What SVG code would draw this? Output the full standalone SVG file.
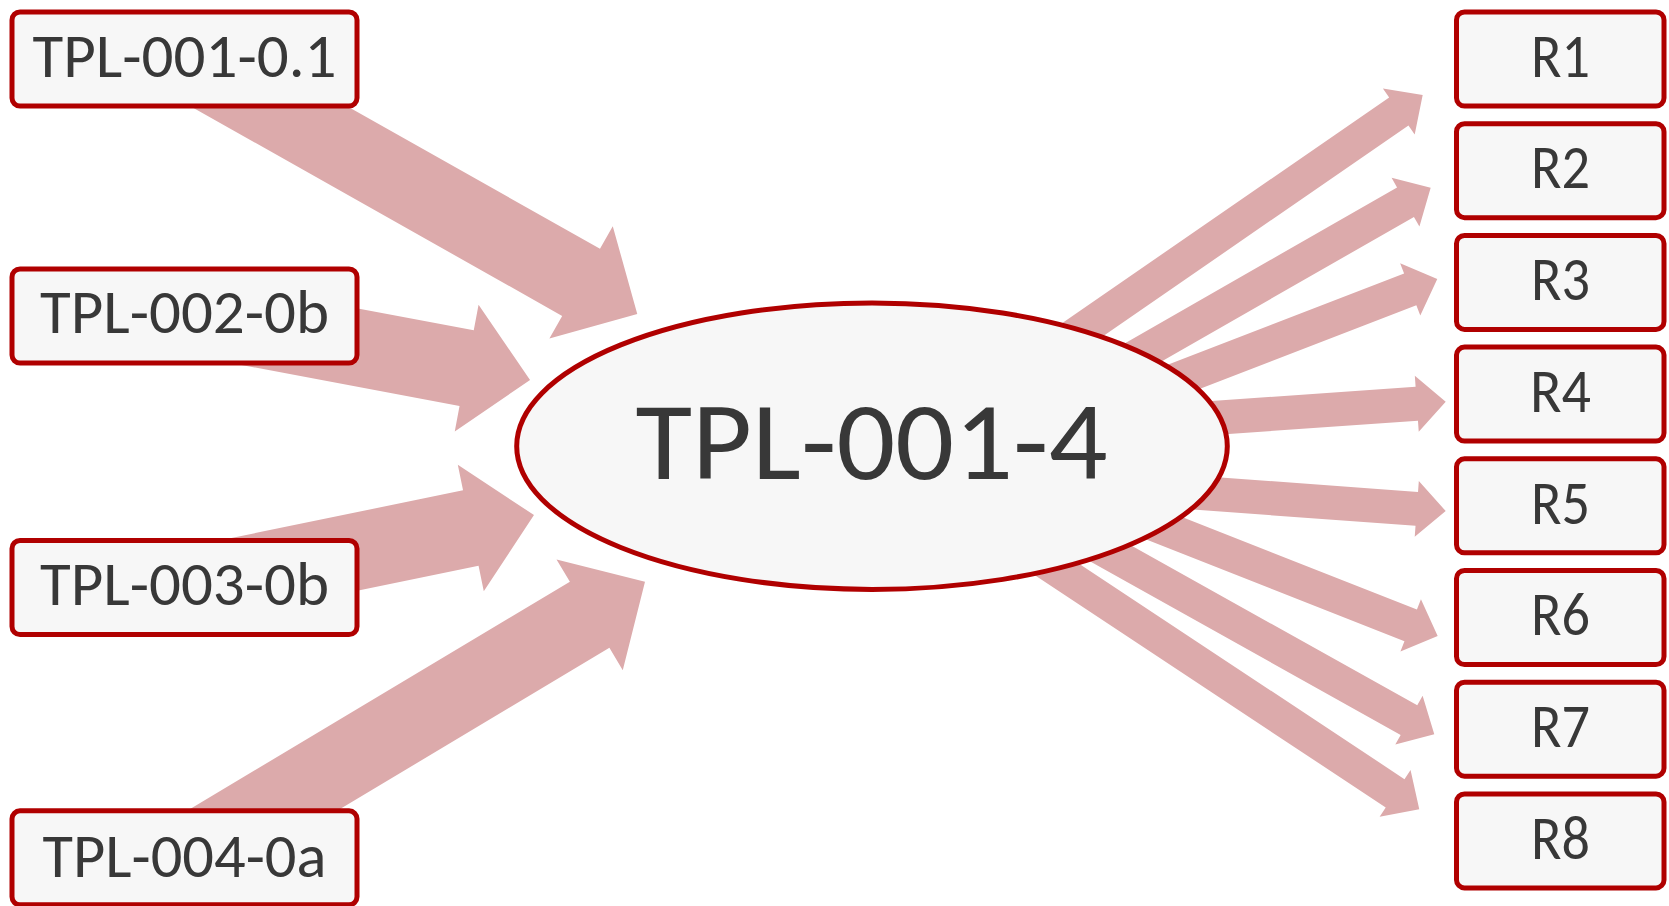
<svg xmlns="http://www.w3.org/2000/svg" width="1669" height="906" viewBox="0 0 1669 906">
<style>
.arrow{fill:#dcaaab;stroke:none}
.box{fill:#f7f7f7;stroke:#b00000;stroke-width:5}
.ell{fill:#f7f7f7;stroke:#b00000;stroke-width:5}
.lbl{font-family:Carlito,Lato,"Open Sans",sans-serif;fill:#383838;text-anchor:middle}
.src{font-size:62px}
.dst{font-size:62px}
.main{font-size:111px}
</style>
<rect width="1669" height="906" fill="#ffffff"/>
<g id="connectors">
  <polygon class="arrow" transform="translate(184.5,58.7) rotate(29.42)" points="0,-38.5 455.3,-38.5 455.3,-64.5 519.8,0 455.3,64.5 455.3,38.5 0,38.5"/>
  <polygon class="arrow" transform="translate(184,315) rotate(10.64)" points="0,-38.5 287.6,-38.5 287.6,-64.5 352.1,0 287.6,64.5 287.6,38.5 0,38.5"/>
  <polygon class="arrow" transform="translate(184,587) rotate(-11.62)" points="0,-38.5 292.8,-38.5 292.8,-64.5 357.3,0 292.8,64.5 292.8,38.5 0,38.5"/>
  <polygon class="arrow" transform="translate(184,857.5) rotate(-30.89)" points="0,-38.5 472.7,-38.5 472.7,-64.5 537.2,0 472.7,64.5 472.7,38.5 0,38.5"/>
  <polygon class="arrow" transform="translate(1000,386.6) rotate(-34.6)" points="0,-17 484.5,-17 484.5,-28 513.5,0 484.5,28 484.5,17 0,17"/>
  <polygon class="arrow" transform="translate(1000,434.4) rotate(-29.8)" points="0,-17 467.3,-17 467.3,-28 496.3,0 467.3,28 467.3,17 0,17"/>
  <polygon class="arrow" transform="translate(1000,447.7) rotate(-21.1)" points="0,-17 439.7,-17 439.7,-28 468.7,0 439.7,28 439.7,17 0,17"/>
  <polygon class="arrow" transform="translate(1000,432.9) rotate(-4)" points="0,-17 417.8,-17 417.8,-28 446.8,0 417.8,28 417.8,17 0,17"/>
  <polygon class="arrow" transform="translate(1000,478.3) rotate(4.2)" points="0,-17 417.9,-17 417.9,-28 446.9,0 417.9,28 417.9,17 0,17"/>
  <polygon class="arrow" transform="translate(1000,463.6) rotate(21.5)" points="0,-17 441.4,-17 441.4,-28 470.4,0 441.4,28 441.4,17 0,17"/>
  <polygon class="arrow" transform="translate(1000,491.6) rotate(29.2)" points="0,-17 468.5,-17 468.5,-28 497.5,0 468.5,28 468.5,17 0,17"/>
  <polygon class="arrow" transform="translate(1000,531.8) rotate(33.5)" points="0,-17 473.8,-17 473.8,-28 502.8,0 473.8,28 473.8,17 0,17"/>
</g>
<g id="node-tpl-001-0-1">
  <rect class="box" x="12" y="12" width="345" height="94" rx="8"/>
  <text class="lbl src" x="184.5" y="77" textLength="304" lengthAdjust="spacingAndGlyphs">TPL-001-0.1</text>
</g>
<g id="node-tpl-002-0b">
  <rect class="box" x="12" y="269" width="345" height="94" rx="8"/>
  <text class="lbl src" x="184.5" y="333" textLength="289" lengthAdjust="spacingAndGlyphs">TPL-002-0b</text>
</g>
<g id="node-tpl-003-0b">
  <rect class="box" x="12" y="540.5" width="345" height="94" rx="8"/>
  <text class="lbl src" x="184.5" y="605" textLength="289" lengthAdjust="spacingAndGlyphs">TPL-003-0b</text>
</g>
<g id="node-tpl-004-0a">
  <rect class="box" x="12" y="810.8" width="345" height="94" rx="8"/>
  <text class="lbl src" x="184.5" y="877" textLength="284" lengthAdjust="spacingAndGlyphs">TPL-004-0a</text>
</g>
<g id="node-tpl-001-4">
  <ellipse class="ell" cx="872" cy="446.2" rx="355.3" ry="143.2"/>
  <text class="lbl main" x="871.5" y="479" textLength="472" lengthAdjust="spacingAndGlyphs">TPL-001-4</text>
</g>
<g id="node-r1">
  <rect class="box" x="1456.5" y="12" width="207.5" height="94" rx="8"/>
  <text class="lbl dst" x="1560.5" y="76.7" textLength="59" lengthAdjust="spacingAndGlyphs">R1</text>
</g>
<g id="node-r2">
  <rect class="box" x="1456.5" y="123.7" width="207.5" height="94" rx="8"/>
  <text class="lbl dst" x="1560.5" y="188.4" textLength="59" lengthAdjust="spacingAndGlyphs">R2</text>
</g>
<g id="node-r3">
  <rect class="box" x="1456.5" y="235.4" width="207.5" height="94" rx="8"/>
  <text class="lbl dst" x="1560.5" y="300.1" textLength="59" lengthAdjust="spacingAndGlyphs">R3</text>
</g>
<g id="node-r4">
  <rect class="box" x="1456.5" y="347.1" width="207.5" height="94" rx="8"/>
  <text class="lbl dst" x="1560.5" y="411.8" textLength="61" lengthAdjust="spacingAndGlyphs">R4</text>
</g>
<g id="node-r5">
  <rect class="box" x="1456.5" y="458.8" width="207.5" height="94" rx="8"/>
  <text class="lbl dst" x="1560.5" y="523.5" textLength="59" lengthAdjust="spacingAndGlyphs">R5</text>
</g>
<g id="node-r6">
  <rect class="box" x="1456.5" y="570.5" width="207.5" height="94" rx="8"/>
  <text class="lbl dst" x="1560.5" y="635.2" textLength="59" lengthAdjust="spacingAndGlyphs">R6</text>
</g>
<g id="node-r7">
  <rect class="box" x="1456.5" y="682.2" width="207.5" height="94" rx="8"/>
  <text class="lbl dst" x="1560.5" y="746.9" textLength="59" lengthAdjust="spacingAndGlyphs">R7</text>
</g>
<g id="node-r8">
  <rect class="box" x="1456.5" y="793.9" width="207.5" height="94" rx="8"/>
  <text class="lbl dst" x="1560.5" y="858.6" textLength="59" lengthAdjust="spacingAndGlyphs">R8</text>
</g>
</svg>
